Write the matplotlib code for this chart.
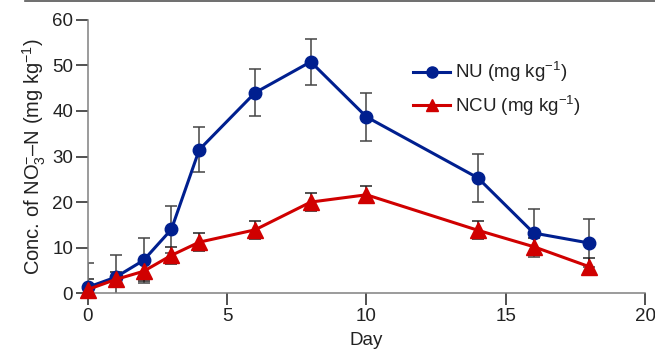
import numpy as np
import matplotlib
matplotlib.use("Agg")
from matplotlib import pyplot as plt
from matplotlib.lines import Line2D

plt.rcParams['font.family'] = ['Liberation Sans', 'DejaVu Sans']
plt.rcParams['mathtext.fontset'] = 'custom'
plt.rcParams['mathtext.rm'] = 'Liberation Sans'
plt.rcParams['mathtext.it'] = 'Liberation Sans'
plt.rcParams['mathtext.default'] = 'regular'

days = [0, 1, 2, 3, 4, 6, 8, 10, 14, 16, 18]
nu = [1.3, 3.5, 7.2, 14.0, 31.5, 44.0, 50.8, 38.7, 25.3, 13.2, 11.0]
nu_err = [5.3, 4.9, 5.0, 5.1, 5.0, 5.2, 5.1, 5.2, 5.2, 5.2, 5.2]
ncu = [0.8, 3.0, 4.8, 8.3, 11.2, 13.9, 20.0, 21.6, 13.8, 10.2, 5.8]
ncu_err = [2.3, 1.7, 2.2, 1.9, 2.0, 1.9, 2.0, 1.9, 2.0, 1.9, 1.9]

blue = '#001f8f'
red = '#d00000'

fig = plt.figure(figsize=(6.55, 3.49), dpi=100)
ax = fig.add_axes([0.134, 0.160, 0.851, 0.783])

# error bars (clipped at the axis), lines and markers drawn on top
ax.errorbar(days, nu, yerr=nu_err, fmt='none', ecolor='#444444', elinewidth=1.1,
            capsize=4, capthick=1.1, zorder=2)
ax.errorbar(days, ncu, yerr=ncu_err, fmt='none', ecolor='#222222', elinewidth=1.1,
            capsize=4, capthick=1.1, zorder=2)
ax.plot(days, nu, color=blue, lw=2.2, marker='o', ms=9, label='NU (mg kg$^{-1}$)',
        zorder=3, clip_on=False)
ax.plot(days, ncu, color=red, lw=2.2, marker='^', ms=11, label='NCU (mg kg$^{-1}$)',
        zorder=4, clip_on=False)

ax.set_xlim(0, 20)
ax.set_ylim(0, 60)
ax.set_xticks([0, 5, 10, 15, 20])
ax.set_yticks([0, 10, 20, 30, 40, 50, 60])
ax.tick_params(direction='out', length=8.5, width=1.1, colors='#222222', labelsize=13.5, pad=2)
for s in ['top', 'right']:
    ax.spines[s].set_visible(False)
for s in ['left', 'bottom']:
    ax.spines[s].set_color('#808080')
    ax.spines[s].set_linewidth(1.1)

ax.set_xlabel('Day', fontsize=13.5, color='#222222', labelpad=5)
ax.set_ylabel('Conc. of NO$_3^{-}$\u2013N (mg kg$^{-1}$)', fontsize=14.5, color='#222222', labelpad=3)

leg = ax.legend(loc='upper left', bbox_to_anchor=(0.57, 0.88), frameon=False, fontsize=13.5,
                handlelength=2.0, handletextpad=0.25, labelspacing=0.5, borderaxespad=0)
for t in leg.get_texts():
    t.set_color('#222222')
for h in leg.legend_handles:
    h.set_markersize(8)

# top border line of the original figure
fig.add_artist(Line2D([0.038, 1.0], [0.998, 0.998], color='#555555', lw=1.2))

fig.savefig('out.png', dpi=100)
